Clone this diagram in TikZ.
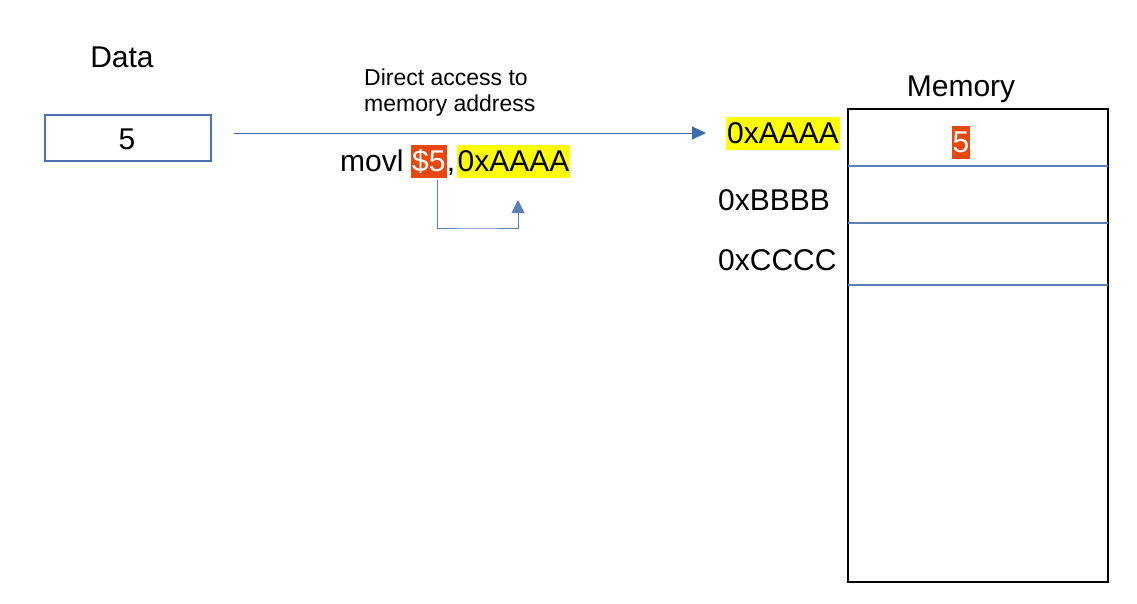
\documentclass[tikz,border=0pt]{standalone}
\usepackage{fontspec}
\setmainfont{Liberation Sans}
\usetikzlibrary{arrows.meta,calc}
\definecolor{lineblue}{HTML}{3D6AAE}
\definecolor{boxblue}{HTML}{4A72B0}
\definecolor{cellblue}{HTML}{5A80B8}
\definecolor{hired}{HTML}{E8480E}
\definecolor{hiyellow}{HTML}{FFFF00}
\tikzset{
  big/.style={font=\fontsize{30}{36}\selectfont, inner sep=0pt, anchor=base},
  small/.style={font=\fontsize{23}{26}\selectfont, inner sep=0pt, align=left, anchor=north west},
  redhl/.style={fill=hired, text=white, inner xsep=1pt, inner ysep=0pt, text height=26.5pt, text depth=6.5pt, font=\fontsize{30}{36}\selectfont, anchor=base west},
  yelhl/.style={fill=hiyellow, inner xsep=1pt, inner ysep=0pt, text height=26.5pt, text depth=6.5pt, font=\fontsize{30}{36}\selectfont, anchor=base west},
  conn/.style={draw=lineblue, line width=1pt, -{Triangle[length=14pt,width=13pt]}},
  cellline/.style={draw=cellblue, line width=1.2pt},
}
\begin{document}
\begin{tikzpicture}[x=1pt,y=-1pt]
\useasboundingbox (0,0) rectangle (1137,603);
% Data
\node[big] (datalbl) at (122,67) {Data};
\node[draw=boxblue, line width=1.2pt, minimum width=166pt, minimum height=46pt, inner sep=0pt] (data) at (128,138) {};
\node[big] (dval) at (127,149) {5};
% label
\node[small] (lbl) at (364,69) {Direct access to\\memory address};
% instruction
\node[big, anchor=base west] (movl) at (340,171) {movl};
\node[redhl] (d5) at (411,171) {\$5};
\node[big, anchor=base west] (comma) at (d5.base east) {,};
\node[yelhl] (addrI) at ($(comma.base east)+(1,0)$) {0xAAAA};
% Memory
\node[big] (memlbl) at (961,96) {Memory};
\node[draw=black, line width=1.5pt, minimum width=260pt, minimum height=473pt, inner sep=0pt] (mem) at (978,345.5) {};
\draw[cellline] (848,166) -- (1108,166);
\draw[cellline] (848,223) -- (1108,223);
\draw[cellline] (848,285) -- (1108,285);
\node[yelhl] (addrA) at (726,143) {0xAAAA};
\node[big, anchor=base west] (addrB) at (718,210) {0xBBBB};
\node[big, anchor=base west] (addrC) at (718,270) {0xCCCC};
\node[redhl, anchor=base] (mval) at (961,152) {5};
% main arrow
\coordinate (astart) at (234,133);
\coordinate (aend) at (706,133);
\draw[conn] (astart) -- (aend);
% small connector
\coordinate (s1) at (437,180);
\coordinate (s2) at (518,200);
\draw[conn, draw=cellblue, -{Triangle[length=13pt,width=13pt]}] (s1) |- (477,228) -| (s2);
\end{tikzpicture}
\end{document}
